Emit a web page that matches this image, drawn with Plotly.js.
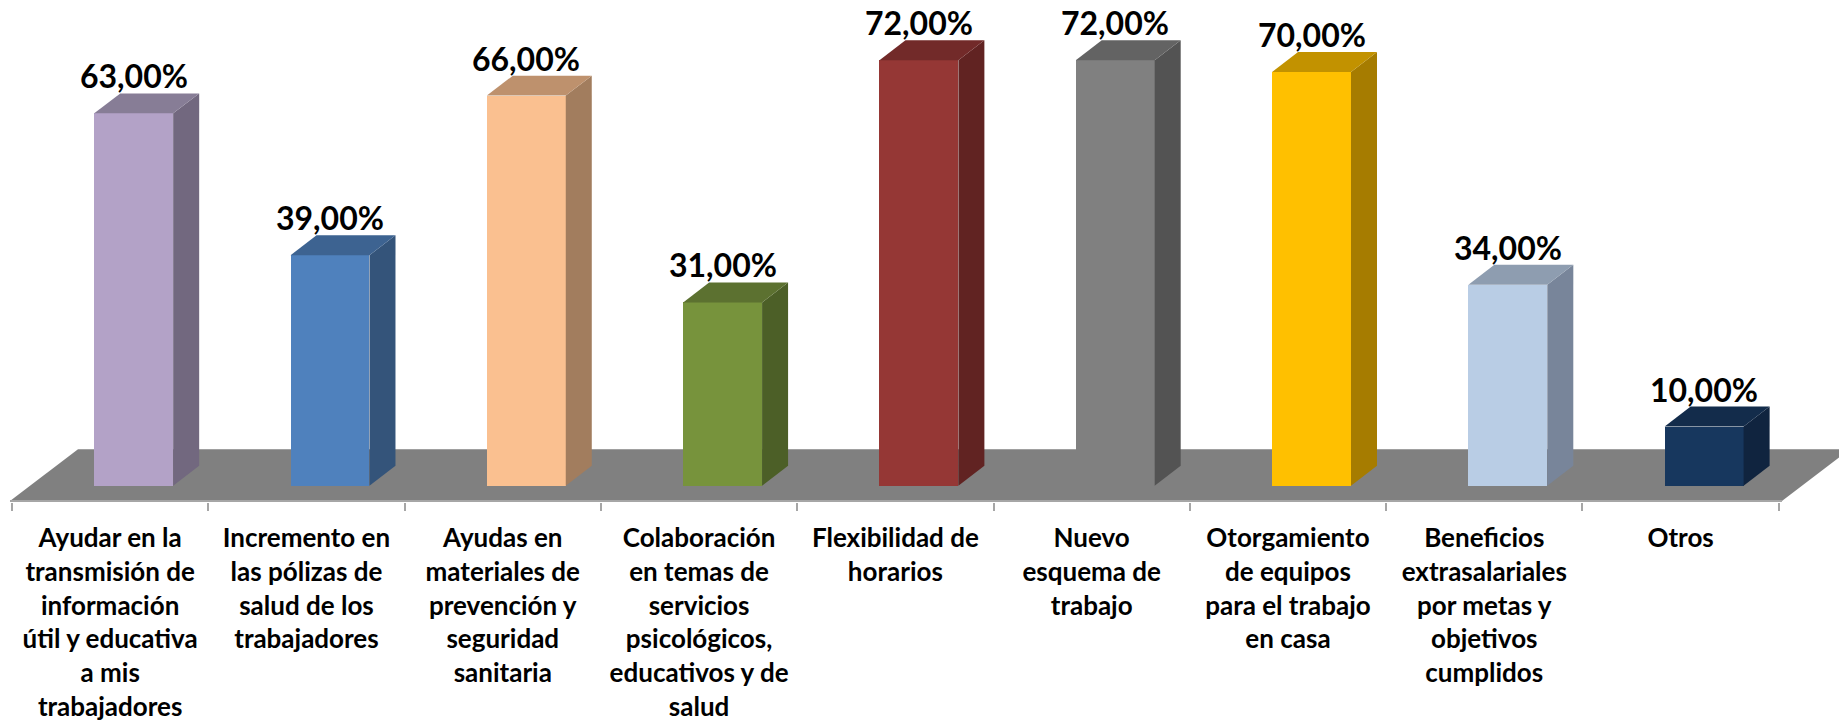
<!DOCTYPE html>
<html>
<head>
<meta charset="utf-8">
<script src="https://cdn.plot.ly/plotly-3.0.1.min.js"></script>
<style>
  html, body { margin: 0; padding: 0; background: #ffffff; }
  #chart { width: 1839px; height: 721px; }
</style>
</head>
<body>
<div id="chart"></div>
<script>
// ---- Data ----
const categories = [
  "Ayudar en la<br>transmisión de<br>información<br>útil y educativa<br>a mis<br>trabajadores",
  "Incremento en<br>las pólizas de<br>salud de los<br>trabajadores",
  "Ayudas en<br>materiales de<br>prevención y<br>seguridad<br>sanitaria",
  "Colaboración<br>en temas de<br>servicios<br>psicológicos,<br>educativos y de<br>salud",
  "Flexibilidad de<br>horarios",
  "Nuevo<br>esquema de<br>trabajo",
  "Otorgamiento<br>de equipos<br>para el trabajo<br>en casa",
  "Beneficios<br>extrasalariales<br>por metas y<br>objetivos<br>cumplidos",
  "Otros"
];
const values = [63, 39, 66, 31, 72, 72, 70, 34, 10];
const frontColors = ["#B3A2C7", "#4F81BD", "#FAC090", "#77933C", "#953735", "#808080", "#FFC000", "#B9CDE5", "#17375E"];
const sideColors  = ["#72687F", "#34547A", "#A27D5E", "#4C5F27", "#612322", "#535353", "#A67C00", "#78859A", "#10243F"];
const topColors   = ["#877D96", "#3D6391", "#BE916D", "#5C7130", "#722A29", "#636363", "#C29200", "#8E9DB0", "#132C4B"];

// ---- Geometry (style constants) ----
const barWidth = 0.402;    // bar front width in category units
const barShift = 0.12;     // perspective shift of bar centre from category centre
const depthX = 0.1325;     // side face depth (x units)
const depthY = 3.38;       // side face depth (y units, %)
const xRange = [-0.5611, 8.807];
const yRange = [-2.76, 82.18];

const idx = values.map((_, i) => i);
const traces = [];

// Front faces
traces.push({
  type: "bar",
  x: idx,
  y: values,
  width: barWidth,
  offset: barShift - barWidth / 2,
  marker: { color: frontColors, line: { width: 0 } },
  hoverinfo: "skip",
  showlegend: false
});

// Side and top faces
values.forEach((v, i) => {
  const xl = i + barShift - barWidth / 2;
  const xr = xl + barWidth;
  traces.push({
    type: "scatter", mode: "lines", fill: "toself",
    x: [xr, xr + depthX, xr + depthX, xr, xr],
    y: [0, depthY, v + depthY, v, 0],
    line: { width: 0, color: sideColors[i] },
    fillcolor: sideColors[i],
    hoverinfo: "skip", showlegend: false
  });
  traces.push({
    type: "scatter", mode: "lines", fill: "toself",
    x: [xl, xl + depthX, xr + depthX, xr, xl],
    y: [v, v + depthY, v + depthY, v, v],
    line: { width: 0, color: topColors[i] },
    fillcolor: topColors[i],
    hoverinfo: "skip", showlegend: false
  });
});

// invisible trace to carry the boundary-tick axis
traces.push({
  type: "scatter", mode: "markers", x: [0], y: [0], xaxis: "x2",
  marker: { opacity: 0 }, hoverinfo: "skip", showlegend: false
});

// Data labels
const annotations = values.map((v, i) => ({
  x: i + barShift,
  y: v,
  xref: "x", yref: "y",
  text: "<b>" + v.toFixed(2).replace(".", ",") + "%</b>",
  showarrow: false,
  xanchor: "center",
  yanchor: "bottom",
  yshift: 16,
  font: { family: "Lato, 'Open Sans', sans-serif", size: 32, color: "#000000" }
}));

// Floor (3D base plane)
const floorFront = -2.589, floorBack = 6.16;
const fl = -0.5102, fr = 8.5164, fdx = 0.3464;
const shapes = [
  {
    type: "path", xref: "x", yref: "y", layer: "below",
    path: `M ${fl},${floorFront} L ${fl + fdx},${floorBack} L ${fr + fdx},${floorBack} L ${fr},${floorFront} Z`,
    fillcolor: "#808080",
    line: { width: 0 }
  },
  {
    type: "line", xref: "x", yref: "y", layer: "below",
    x0: fl, y0: floorFront, x1: fr, y1: floorFront,
    line: { color: "#A6A6A6", width: 2 }
  }
];

const tickFont = { family: "Lato, 'Open Sans', sans-serif", size: 26, color: "#000000", weight: 700 };

const layout = {
  width: 1839,
  height: 721,
  margin: { l: 0, r: 0, t: 0, b: 219 },
  paper_bgcolor: "#ffffff",
  plot_bgcolor: "#ffffff",
  showlegend: false,
  bargap: 0,
  xaxis: {
    range: xRange,
    tickmode: "array",
    tickvals: idx,
    ticktext: categories,
    ticks: "",
    showgrid: false,
    zeroline: false,
    showline: false,
    tickfont: tickFont,
    ticklabelstandoff: 18,
    fixedrange: true
  },
  xaxis2: {
    overlaying: "x",
    matches: "x",
    anchor: "y",
    side: "bottom",
    range: xRange,
    tickmode: "array",
    tickvals: idx.concat([idx.length]).map(k => k - 0.5),
    ticktext: idx.concat([idx.length]).map(() => ""),
    ticks: "outside",
    ticklen: 8,
    tickwidth: 2,
    tickcolor: "#A6A6A6",
    showgrid: false,
    zeroline: false,
    showline: false,
    fixedrange: true
  },
  yaxis: {
    range: yRange,
    visible: false,
    showgrid: false,
    zeroline: false,
    fixedrange: true
  },
  shapes: shapes,
  annotations: annotations
};

Plotly.newPlot("chart", traces, layout, { displayModeBar: false, staticPlot: true });
</script>
</body>
</html>
